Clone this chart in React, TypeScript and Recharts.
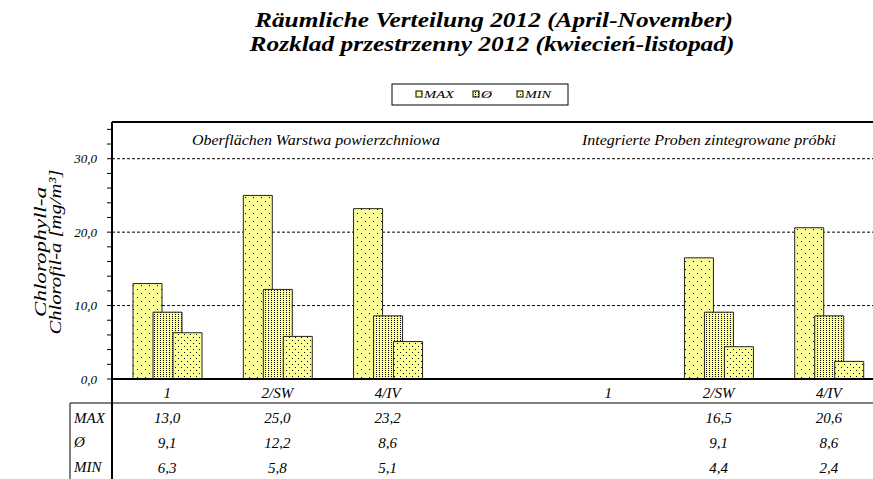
import React from 'react';
import { BarChart, Bar, XAxis, YAxis, CartesianGrid, ReferenceLine } from 'recharts';

const categories = ['1', '2/SW', '4/IV', '', '1', '2/SW', '4/IV'];
const maxValues = [13.0, 25.0, 23.2, null, null, 16.5, 20.6];
const avgValues = [9.1, 12.2, 8.6, null, null, 9.1, 8.6];
const minValues = [6.3, 5.8, 5.1, null, null, 4.4, 2.4];
const seriesNames = ['MAX', 'Ø', 'MIN'];
const yTicks = [0, 2, 4, 6, 8, 10, 12, 14, 16, 18, 20, 22, 24, 26, 28, 30, 32, 34];

const FONT = '"Liberation Serif", "Times New Roman", serif';
const YELLOW = '#FFFF99';

const data = categories.map((cat, i) => ({
  cat,
  max: maxValues[i],
  avg: avgValues[i],
  min: minValues[i],
}));

const fmt = (v: number) => v.toFixed(1).replace('.', ',');

const TableTick = (props: any) => {
  const { x, y, payload, values } = props;
  const v = values[payload.index];
  if (v == null) return null;
  return (
    <text x={x} y={y + 20} textAnchor="middle" fontSize={15} fontStyle="italic" fontFamily={FONT} fill="#000">
      {fmt(v)}
    </text>
  );
};

const patterns = ['patMax', 'patAvg', 'patMin'];

// axis ids are sorted by name when stacked, so prefix them
const App = () => {
  return (
    <div style={{ position: 'absolute', top: 0, left: 0, width: 873, height: 479, overflow: 'hidden', background: '#fff' }}>
      <BarChart
        width={900}
        height={479}
        data={data}
        margin={{ top: 122, right: 16, bottom: 0, left: 52 }}
        barSize={29}
        barGap={-9}
      >
        <defs>
          <pattern id="patMax" width={8} height={8} patternUnits="userSpaceOnUse">
            <rect width={8} height={8} fill={YELLOW} />
            <rect x={1} y={1} width={1} height={1} fill="#000" />
            <rect x={5} y={5} width={1} height={1} fill="#000" />
          </pattern>
          <pattern id="patAvg" width={3} height={2} patternUnits="userSpaceOnUse">
            <rect width={3} height={2} fill={YELLOW} />
            <rect x={1} y={0} width={1} height={1} fill="#000" />
          </pattern>
          <pattern id="patMin" width={6} height={6} patternUnits="userSpaceOnUse">
            <rect width={6} height={6} fill={YELLOW} />
            <rect x={1} y={1} width={1} height={1} fill="#000" />
            <rect x={4} y={4} width={1} height={1} fill="#000" />
          </pattern>
        </defs>

        <CartesianGrid
          xAxisId="a_cat"
          vertical={false}
          horizontalValues={[10, 20, 30]}
          stroke="#000"
          strokeDasharray="3 2"
        />

        <XAxis
          xAxisId="a_cat"
          dataKey="cat"
          height={24}
          tickLine={false}
          axisLine={{ stroke: '#000', strokeWidth: 2 }}
          tick={{ fontSize: 15, fontStyle: 'italic', fill: '#000', fontFamily: FONT }}
          interval={0}
        />
        <XAxis
          xAxisId="b_max"
          dataKey="cat"
          height={25}
          tickLine={false}
          axisLine={false}
          tickSize={0}
          tickMargin={0}
          interval={0}
          tick={(p: any) => <TableTick {...p} values={maxValues} />}
        />
        <XAxis
          xAxisId="c_avg"
          dataKey="cat"
          height={25}
          tickLine={false}
          axisLine={false}
          tickSize={0}
          tickMargin={0}
          interval={0}
          tick={(p: any) => <TableTick {...p} values={avgValues} />}
        />
        <XAxis
          xAxisId="d_min"
          dataKey="cat"
          height={26}
          tickLine={false}
          axisLine={false}
          tickSize={0}
          tickMargin={0}
          interval={0}
          tick={(p: any) => <TableTick {...p} values={minValues} />}
        />
        <YAxis
          width={60}
          domain={[0, 35]}
          ticks={yTicks}
          interval={0}
          tickSize={5}
          tickMargin={10}
          axisLine={{ stroke: '#000', strokeWidth: 2 }}
          tickLine={{ stroke: '#000' }}
          tick={{ fontSize: 13, fontStyle: 'italic', fill: '#000', fontFamily: FONT }}
          tickFormatter={(v: number) => (v % 10 === 0 ? fmt(v) : '')}
        />
        <ReferenceLine xAxisId="a_cat" y={35} stroke="#000" strokeWidth={2} ifOverflow="visible" />

        <Bar xAxisId="a_cat" dataKey="max" name={seriesNames[0]} fill="url(#patMax)" stroke="#222" strokeWidth={1} isAnimationActive={false} />
        <Bar xAxisId="a_cat" dataKey="avg" name={seriesNames[1]} fill="url(#patAvg)" stroke="#222" strokeWidth={1} isAnimationActive={false} />
        <Bar xAxisId="a_cat" dataKey="min" name={seriesNames[2]} fill="url(#patMin)" stroke="#222" strokeWidth={1} isAnimationActive={false} />

        <g>
          {/* title */}
          <text x={494} y={27} textAnchor="middle" fontSize={22} fontWeight="bold" fontStyle="italic" fontFamily={FONT} textLength={478} lengthAdjust="spacingAndGlyphs">
            Räumliche Verteilung 2012 (April-November)
          </text>
          <text x={492} y={51} textAnchor="middle" fontSize={22} fontWeight="bold" fontStyle="italic" fontFamily={FONT} textLength={485} lengthAdjust="spacingAndGlyphs">
            Rozklad przestrzenny 2012 (kwiecień-listopad)
          </text>

          {/* legend */}
          <rect x={392} y={84} width={176} height={21} fill="#fff" stroke="#000" />
          {seriesNames.map((name, i) => {
            const sx = [416, 473, 517][i];
            const tw = [30, 11, 26][i];
            return (
              <g key={name}>
                <rect x={sx} y={91} width={6} height={6} fill={`url(#${patterns[i]})`} stroke="#000" />
                <text x={sx + 8} y={98} fontSize={11} fontStyle="italic" fontFamily={FONT} textLength={tw} lengthAdjust="spacingAndGlyphs">
                  {name}
                </text>
              </g>
            );
          })}

          {/* y-axis title */}
          <text transform="rotate(-90, 46, 252)" x={46} y={252} textAnchor="middle" fontSize={17} fontStyle="italic" fontFamily={FONT} textLength={130} lengthAdjust="spacingAndGlyphs">
            Chlorophyll-a
          </text>
          <text transform="rotate(-90, 61, 252)" x={61} y={252} textAnchor="middle" fontSize={17} fontStyle="italic" fontFamily={FONT} textLength={165} lengthAdjust="spacingAndGlyphs">
            Chlorofil-a [mg/m³]
          </text>

          {/* section labels */}
          <text x={192} y={145} fontSize={14} fontStyle="italic" fontFamily={FONT} textLength={248} lengthAdjust="spacingAndGlyphs">
            Oberflächen Warstwa powierzchniowa
          </text>
          <text x={582} y={145} fontSize={14} fontStyle="italic" fontFamily={FONT} textLength={254} lengthAdjust="spacingAndGlyphs">
            Integrierte Proben  zintegrowane próbki
          </text>

          {/* data table frame */}
          <line x1={70} y1={403} x2={900} y2={403} stroke="#000" />
          <line x1={70} y1={403} x2={70} y2={479} stroke="#000" />
          <line x1={112} y1={379} x2={112} y2={479} stroke="#000" strokeWidth={2} />
          {seriesNames.map((name, i) => (
            <text key={name} x={74} y={[423, 447, 472][i]} fontSize={15} fontStyle="italic" fontFamily={FONT}>
              {name}
            </text>
          ))}
        </g>
      </BarChart>
    </div>
  );
};

export default App;
